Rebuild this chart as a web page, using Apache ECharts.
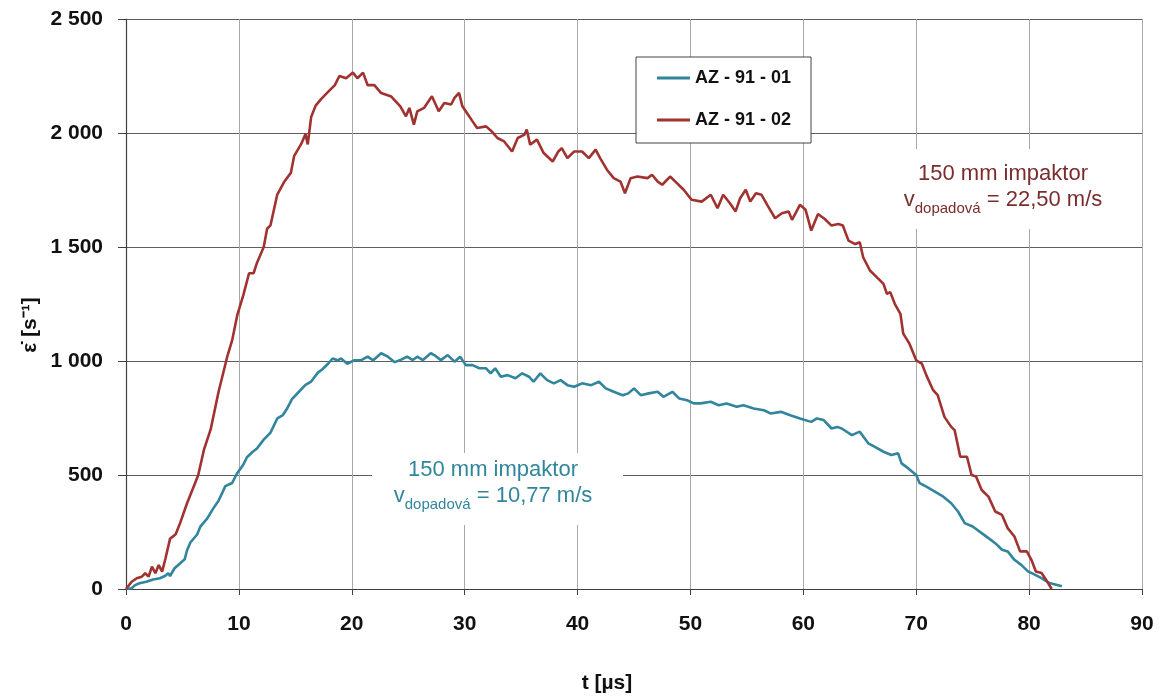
<!DOCTYPE html>
<html>
<head>
<meta charset="utf-8">
<script src="https://cdn.jsdelivr.net/npm/echarts@6/dist/echarts.min.js"></script>
<style>
html,body{margin:0;padding:0;background:#fff;}
#chart{width:1168px;height:697px;}
</style>
</head>
<body>
<div id="chart"></div>
<script>
// ---- data ----
const seriesNames = ['AZ - 91 - 01', 'AZ - 91 - 02'];
const xTicks = [0, 10, 20, 30, 40, 50, 60, 70, 80, 90];
const yTicks = [0, 500, 1000, 1500, 2000, 2500];

// AZ - 91 - 01 : [t (µs), strain rate (1/s)]
const az9101 = [
[0,0],[0.5,3],[0.8,17],[1.2,25],[1.8,32],[2.4,42],[3.0,47],[3.45,57],[3.75,69],[3.9,57],
[4.3,91],[4.8,113],[5.2,130],[5.4,169],[5.7,204],[6.3,239],[6.6,275],[7.2,310],[7.8,359],[8.2,387],
[8.8,451],[9.4,465],[9.85,508],[10.4,546],[10.7,577],[11.2,601],[11.6,616],[12.2,655],[12.8,686],[13.4,748],
[13.9,763],[14.3,794],[14.7,833],[15.3,864],[15.9,895],[16.4,910],[17.0,949],[17.4,964],[17.9,988],[18.3,1011],
[18.75,1003],[19.05,1011],[19.6,988],[20.2,1003],[20.8,1003],[21.4,1019],[21.9,1003],[22.6,1034],[23.2,1019],[23.8,995],
[24.3,1004],[24.9,1019],[25.4,1004],[25.8,1019],[26.3,1004],[27.0,1034],[27.3,1026],[27.9,1004],[28.5,1026],[29.1,997],
[29.6,1019],[30.1,982],[30.7,982],[31.3,968],[31.9,968],[32.3,946],[32.7,968],[33.2,931],[33.8,938],[34.5,924],
[35.1,946],[35.7,931],[36.1,909],[36.7,946],[37.3,916],[37.9,902],[38.5,916],[39.1,894],[39.7,887],[40.4,902],
[41.2,894],[41.9,909],[42.5,880],[43.2,865],[44.0,850],[44.5,858],[45.0,880],[45.6,850],[46.3,858],[47.1,865],
[47.6,843],[48.4,865],[49.0,836],[49.7,828],[50.3,814],[50.9,814],[51.8,821],[52.5,806],[53.2,814],[54.1,799],
[54.7,806],[55.6,792],[56.5,784],[57.1,770],[58.0,777],[58.85,762],[59.7,748],[60.7,733],[61.2,748],[61.8,741],
[62.5,704],[63.0,711],[63.4,704],[64.3,675],[65.0,690],[65.75,639],[66.3,624],[67.1,602],[67.8,588],[68.4,595],
[68.7,551],[69.3,529],[70.0,500],[70.3,464],[70.9,449],[71.65,427],[72.4,405],[73.1,376],[73.7,340],[74.3,289],
[75.0,274],[75.8,245],[76.4,223],[77.0,201],[77.6,172],[78.1,165],[78.7,128],[79.3,106],[79.9,77],[80.5,63],
[81.1,48],[81.8,26],[82.4,19],[82.9,12]
];

// AZ - 91 - 02 : [t (µs), strain rate (1/s)]
const az9102 = [
[0,0],[0.5,32],[0.95,47],[1.4,54],[1.7,69],[2.0,54],[2.3,98],[2.6,69],[2.9,105],[3.2,76],
[3.5,135],[3.9,220],[4.4,240],[4.8,290],[5.4,375],[6.0,450],[6.4,500],[6.9,610],[7.5,700],[8.2,865],
[9.0,1025],[9.4,1090],[9.85,1200],[10.4,1290],[10.9,1385],[11.3,1385],[11.6,1430],[12.2,1500],[12.5,1580],[12.8,1595],
[13.4,1730],[14.0,1785],[14.6,1825],[14.9,1900],[15.5,1950],[15.9,1995],[16.1,1950],[16.4,2070],[16.8,2120],[17.3,2150],
[17.9,2180],[18.5,2210],[18.9,2250],[19.5,2240],[20.1,2265],[20.5,2240],[21.0,2265],[21.4,2210],[22.0,2210],[22.6,2175],
[23.5,2160],[24.3,2117],[24.8,2073],[25.1,2110],[25.5,2037],[25.8,2095],[26.4,2110],[27.1,2161],[27.7,2095],[28.2,2132],
[28.8,2125],[29.1,2154],[29.5,2176],[29.8,2117],[30.2,2088],[30.7,2051],[31.1,2022],[31.9,2029],[32.4,2007],[32.9,1978],
[33.5,1963],[34.2,1919],[34.7,1978],[35.3,1993],[35.5,2015],[35.8,1949],[36.4,1971],[37.0,1912],[37.8,1875],[38.3,1919],
[38.6,1934],[39.1,1890],[39.7,1919],[40.4,1919],[41.0,1890],[41.6,1927],[42.0,1890],[42.6,1839],[43.2,1802],[43.8,1787],
[44.2,1736],[44.7,1802],[45.3,1809],[46.2,1802],[46.6,1817],[47.1,1787],[47.5,1773],[48.2,1809],[48.8,1780],[49.4,1751],
[50.1,1707],[51.0,1699],[51.8,1729],[52.4,1670],[52.9,1729],[53.5,1692],[54.0,1656],[54.4,1714],[54.9,1751],[55.3,1699],
[55.8,1736],[56.3,1729],[56.8,1685],[57.5,1626],[58.1,1648],[58.7,1656],[59.0,1619],[59.7,1685],[60.2,1663],[60.7,1572],
[61.3,1645],[61.9,1623],[62.5,1594],[63.1,1601],[63.5,1594],[64.0,1528],[64.6,1513],[65.0,1521],[65.3,1455],[65.9,1397],
[66.5,1368],[67.1,1338],[67.4,1295],[67.7,1302],[68.1,1251],[68.6,1207],[68.85,1120],[69.4,1076],[70.0,1003],[70.5,988],
[70.9,937],[71.5,872],[71.9,850],[72.5,755],[73.1,711],[73.4,697],[73.9,580],[74.5,580],[74.9,500],[75.3,493],
[75.8,434],[76.4,405],[77.0,340],[77.6,325],[78.1,267],[78.7,230],[79.2,165],[79.8,165],[80.2,128],[80.6,77],
[81.1,70],[81.5,41],[82.0,0]
];

const annoRed = ['150 mm impaktor', 'dopadová', ' = 22,50 m/s'];
const annoTeal = ['150 mm impaktor', 'dopadová', ' = 10,77 m/s'];
const xTitle = 't [µs]';
const yTitle = 'ε̇ [s⁻¹]';

// ---- styling ----
const TEAL = '#31859c';
const RED = '#a0322f';
const TEXT_RED = '#7b2c2c';
const FONT = '"Liberation Sans", Arial, sans-serif';

function thousands(v) {
  return String(v).replace(/\B(?=(\d{3})+(?!\d))/g, ' ');
}

function annoText(lines, color) {
  return {
    text: '{a|' + lines[0] + '}\n{v|v}{s|' + lines[1] + '}{v|' + lines[2] + '}',
    align: 'center',
    verticalAlign: 'top',
    fill: color,
    font: '22px ' + FONT,
    rich: {
      a: { fontSize: 22, fontFamily: FONT, lineHeight: 30, fill: color, color: color, verticalAlign: 'middle' },
      v: { fontSize: 22, fontFamily: FONT, lineHeight: 27, fill: color, color: color, verticalAlign: 'top' },
      s: { fontSize: 15, fontFamily: FONT, fill: color, color: color, verticalAlign: 'bottom' }
    }
  };
}

const chart = echarts.init(document.getElementById('chart'), null, { renderer: 'canvas' });

const option = {
  backgroundColor: '#ffffff',
  animation: false,
  textStyle: { fontFamily: FONT },
  grid: { left: 126, right: 26, top: 19, bottom: 108, containLabel: false },
  legend: {
    data: seriesNames,
    orient: 'vertical',
    left: 636,
    top: 57,
    backgroundColor: '#ffffff',
    borderColor: '#444444',
    borderWidth: 1,
    borderRadius: 0,
    padding: [12, 20, 14, 21],
    itemGap: 24,
    icon: 'rect',
    itemWidth: 33,
    itemHeight: 3,
    textStyle: { fontSize: 18, fontWeight: 'bold', color: '#111', fontFamily: FONT }
  },
  xAxis: {
    type: 'value',
    min: xTicks[0],
    max: xTicks[xTicks.length - 1],
    interval: xTicks[1] - xTicks[0],
    axisLine: { show: true, onZero: false, lineStyle: { color: '#404040', width: 1.2 } },
    axisTick: { show: true, length: 6, lineStyle: { color: '#404040' } },
    axisLabel: { fontSize: 21, fontWeight: 'bold', color: '#111', margin: 25, fontFamily: FONT },
    splitLine: { show: true, lineStyle: { color: '#a8a8a8', width: 1 } }
  },
  yAxis: {
    type: 'value',
    min: yTicks[0],
    max: yTicks[yTicks.length - 1],
    interval: yTicks[1] - yTicks[0],
    axisLine: { show: true, lineStyle: { color: '#404040', width: 1.2 } },
    axisTick: { show: true, length: 8, lineStyle: { color: '#404040' } },
    axisLabel: { fontSize: 21, fontWeight: 'bold', color: '#111', margin: 23, fontFamily: FONT, formatter: thousands },
    splitLine: { show: true, lineStyle: { color: '#5e5e5e', width: 1 } }
  },
  series: [
    {
      name: seriesNames[0], type: 'line', data: az9101, showSymbol: false, symbol: 'none',
      lineStyle: { color: TEAL, width: 2.6 }, itemStyle: { color: TEAL }, z: 3
    },
    {
      name: seriesNames[1], type: 'line', data: az9102, showSymbol: false, symbol: 'none',
      lineStyle: { color: RED, width: 2.6 }, itemStyle: { color: RED }, z: 4
    }
  ],
  graphic: [
    { type: 'rect', left: 893, top: 149, shape: { width: 218, height: 80 }, style: { fill: '#ffffff' }, z: 50 },
    { type: 'text', x: 1003, y: 159, style: annoText(annoRed, TEXT_RED), z: 51 },
    { type: 'rect', left: 372, top: 453, shape: { width: 251, height: 72 }, style: { fill: '#ffffff' }, z: 50 },
    { type: 'text', x: 493, y: 455, style: annoText(annoTeal, TEAL), z: 51 },
    { type: 'text', x: 607, y: 683, style: { text: xTitle, align: 'center', verticalAlign: 'middle', font: 'bold 21px ' + FONT, fill: '#111' }, z: 51 },
    { type: 'text', x: 30, y: 325, rotation: Math.PI / 2, style: { text: yTitle, align: 'center', verticalAlign: 'middle', font: 'bold 21px ' + FONT, fill: '#111' }, z: 51 }
  ]
};

chart.setOption(option);
</script>
</body>
</html>
